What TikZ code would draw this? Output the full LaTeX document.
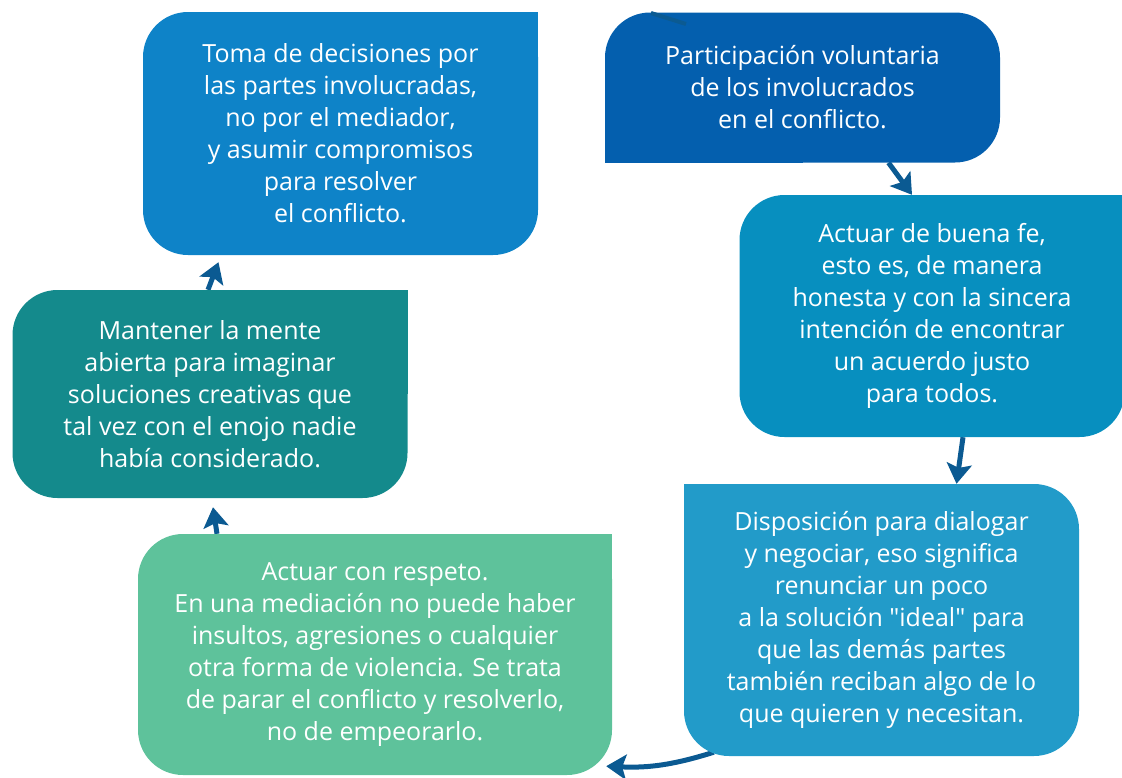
\documentclass[tikz,border=0pt]{standalone}
\usepackage{fontspec}
\setmainfont{Open Sans}
\usetikzlibrary{arrows.meta, backgrounds}

\definecolor{tomablue}{HTML}{0E83C8}
\definecolor{partblue}{HTML}{045FAE}
\definecolor{feblue}{HTML}{078FBF}
\definecolor{menteteal}{HTML}{148A8C}
\definecolor{respgreen}{HTML}{5EC29B}
\definecolor{dialblue}{HTML}{229BC9}
\definecolor{arrowblue}{HTML}{0B5A92}

\begin{document}
\begin{tikzpicture}[x=1pt, y=-1pt,
    box/.style={rounded corners=45pt, inner sep=0pt, text=white, align=center,
      font=\fontsize{25}{32}\selectfont},
    link/.style={-{Stealth[length=20pt, width=25pt, inset=4pt]}, line width=5pt, draw=arrowblue}]

  \useasboundingbox (0,0) rectangle (1122,777);

  % Boxes of the cycle
  \node[box, fill=tomablue, minimum width=395pt, minimum height=243pt] (toma) at (340.5,133.5)
    {Toma de decisiones por\\ las partes involucradas,\\ no por el mediador,\\ y asumir compromisos\\ para resolver\\ el conflicto.};

  \node[box, fill=partblue, minimum width=395pt, minimum height=150pt] (participa) at (802.5,87.5)
    {Participación voluntaria\\ de los involucrados\\ en el conflicto.};

  \node[box, fill=feblue, minimum width=385pt, minimum height=242pt] (buenafe) at (932,316)
    {Actuar de buena fe,\\ esto es, de manera\\ honesta y con la sincera\\ intención de encontrar\\ un acuerdo justo\\ para todos.};

  \node[box, fill=menteteal, minimum width=395pt, minimum height=208pt] (mente) at (210,394)
    {Mantener la mente\\ abierta para imaginar\\ soluciones creativas que\\ tal vez con el enojo nadie\\ había considerado.};

  \node[box, fill=respgreen, minimum width=474pt, minimum height=241pt] (respeto) at (375,654.5)
    {Actuar con respeto.\\ En una mediación no puede haber\\ insultos, agresiones o cualquier\\ otra forma de violencia. Se trata\\ de parar el conflicto y resolverlo,\\ no de empeorarlo.};

  \node[box, fill=dialblue, minimum width=395pt, minimum height=272pt] (dialogo) at (881.5,620)
    {Disposición para dialogar\\ y negociar, eso significa\\ renunciar un poco\\ a la solución \textquotedbl ideal\textquotedbl{} para\\ que las demás partes\\ también reciban algo de lo\\ que quieren y necesitan.};

  \begin{pgfonlayer}{background}
    % Square corners
    \fill[tomablue] (toma.center) rectangle (toma.north east);
    \fill[partblue] (participa.center) rectangle (participa.south west);
    \fill[feblue] (buenafe.center) rectangle (buenafe.north east);
    \fill[menteteal] (mente.center) rectangle (mente.north east);
    \fill[respgreen] (respeto.center) rectangle (respeto.north east);
    \fill[dialblue] (dialogo.center) rectangle (dialogo.north west);

    % Arrows
    \draw[link] ([xshift=86pt]participa.south) -- ([xshift=-20pt]buenafe.north);
    \draw[link] ([xshift=31pt]buenafe.south) -- ([xshift=75pt]dialogo.north);
    \draw[link] ([xshift=30pt, yshift=4pt]dialogo.south west) to[bend left=10] ([xshift=-6pt, yshift=9pt]respeto.south east);
    \draw[link] ([xshift=-158pt]respeto.north) -- ([xshift=3pt, yshift=-9pt]mente.south);
    \draw[link] ([xshift=-2pt]mente.north) -- ([xshift=-122pt, yshift=-7pt]toma.south);
  \end{pgfonlayer}

  % Stub of a hidden arrow
  \coordinate (stubA) at (651,13);
  \coordinate (stubB) at (686,24);
  \draw[arrowblue, line width=4pt] (stubA) -- (stubB);

\end{tikzpicture}
\end{document}
